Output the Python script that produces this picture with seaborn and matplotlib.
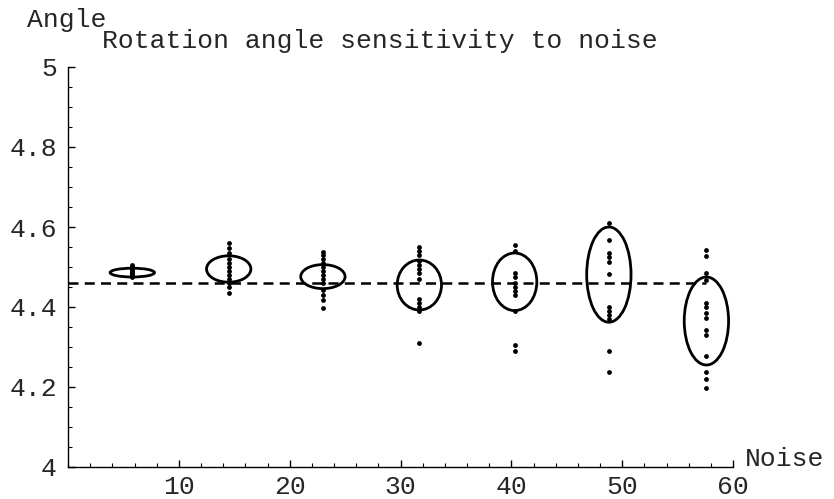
import matplotlib
matplotlib.use("Agg")
import matplotlib.pyplot as plt
from matplotlib.patches import Ellipse
from matplotlib.ticker import MultipleLocator, FixedLocator
import seaborn as sns
import pandas as pd

# ---- data ----
noise_levels = [5.8, 14.5, 23.0, 31.7, 40.3, 48.8, 57.6]
cluster1 = [4.505, 4.500, 4.495, 4.490, 4.488, 4.485, 4.482, 4.480, 4.478, 4.475]
cluster2 = [4.560, 4.547, 4.535, 4.520, 4.510, 4.500, 4.490, 4.480, 4.470, 4.460, 4.450, 4.435]
cluster3 = [4.537, 4.530, 4.520, 4.510, 4.500, 4.490, 4.480, 4.470, 4.460, 4.443, 4.430, 4.418, 4.398]
cluster4 = [4.550, 4.540, 4.530, 4.515, 4.505, 4.495, 4.485, 4.470, 4.420, 4.410, 4.400, 4.390, 4.310]
cluster5 = [4.555, 4.540, 4.485, 4.475, 4.460, 4.450, 4.440, 4.430, 4.390, 4.305, 4.290]
cluster6 = [4.610, 4.567, 4.535, 4.525, 4.512, 4.482, 4.400, 4.390, 4.380, 4.370, 4.290, 4.237]
cluster7 = [4.542, 4.528, 4.485, 4.468, 4.410, 4.400, 4.385, 4.372, 4.343, 4.330, 4.278, 4.237, 4.220, 4.198]
ellipse_center_y = [4.486, 4.495, 4.476, 4.455, 4.463, 4.481, 4.365]
ellipse_radius_y = [0.011, 0.033, 0.030, 0.0625, 0.072, 0.119, 0.110]
ellipse_radius_x = [2.0, 2.0, 2.0, 2.0, 2.0, 2.0, 2.0]
mean_angle = 4.46
y_ticks = [4.0, 4.2, 4.4, 4.6, 4.8, 5.0]
y_tick_labels = ["4", "4.2", "4.4", "4.6", "4.8", "5"]
x_ticks = [10, 20, 30, 40, 50, 60]
x_tick_labels = ["10", "20", "30", "40", "50", "60"]

clusters = [cluster1, cluster2, cluster3, cluster4, cluster5, cluster6, cluster7]
rows = []
for xv, ys in zip(noise_levels, clusters):
    for yv in ys:
        rows.append({"Noise": xv, "Angle": yv})
df = pd.DataFrame(rows)

sns.set_style("ticks")
plt.rcParams["font.family"] = ["Liberation Mono", "DejaVu Sans Mono"]
FS = 19

W, H = 834, 499
fig = plt.figure(figsize=(W / 100, H / 100), dpi=100)
ax = fig.add_axes([68 / W, (H - 467) / H, (733 - 68) / W, (467 - 67) / H])

sns.scatterplot(data=df, x="Noise", y="Angle", ax=ax, color="black",
                s=12, linewidth=0, legend=False, zorder=3)

for xc, yc, rx, ry in zip(noise_levels, ellipse_center_y, ellipse_radius_x, ellipse_radius_y):
    ax.add_patch(Ellipse((xc, yc), 2 * rx, 2 * ry, fill=False,
                         edgecolor="black", linewidth=2.0, zorder=2))

sns.lineplot(x=[0.0, noise_levels[-1]], y=[mean_angle, mean_angle], ax=ax,
             color="black", linewidth=1.8, linestyle=(0, (4, 2.5)), zorder=2)

ax.set_xlim(0, 60)
ax.set_ylim(4.0, 5.0)
ax.xaxis.set_major_locator(FixedLocator(x_ticks))
ax.set_xticklabels(x_tick_labels)
ax.xaxis.set_minor_locator(MultipleLocator(2))
ax.yaxis.set_major_locator(FixedLocator(y_ticks))
ax.set_yticklabels(y_tick_labels)
ax.yaxis.set_minor_locator(MultipleLocator(0.05))
ax.tick_params(axis="both", which="major", direction="in", length=5, width=1,
               labelsize=FS, color="black")
ax.tick_params(axis="y", which="major", pad=8)
ax.tick_params(axis="x", which="major", pad=6)
ax.tick_params(axis="both", which="minor", direction="in", length=3, width=0.8,
               color="black")
ax.tick_params(axis="x", which="both", bottom=True, top=False)
ax.tick_params(axis="y", which="both", left=True, right=False)
for side in ["top", "right"]:
    ax.spines[side].set_visible(False)
for side in ["left", "bottom"]:
    ax.spines[side].set_color("black")
    ax.spines[side].set_linewidth(1.0)
ax.set_xlabel("")
ax.set_ylabel("")
ax.set_facecolor("white")

fig.text(27 / W, 1 - 20 / H, "Angle", fontsize=FS, va="center", ha="left")
fig.text(102 / W, 1 - 41 / H, "Rotation angle sensitivity to noise", fontsize=FS,
         va="center", ha="left")
fig.text(745 / W, 1 - 459 / H, "Noise", fontsize=FS, va="center", ha="left")

fig.savefig("out.png", dpi=100, facecolor="white")
